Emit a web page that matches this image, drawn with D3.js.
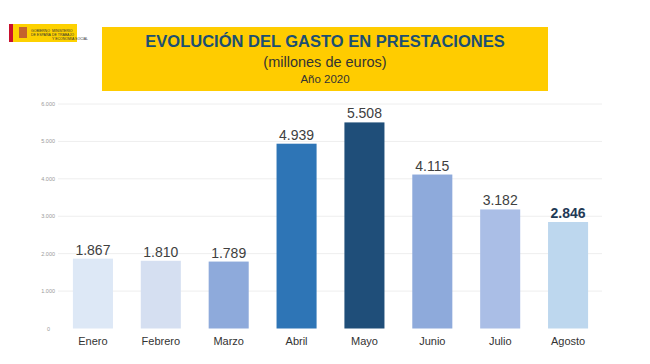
<!DOCTYPE html>
<html><head><meta charset="utf-8">
<script src="https://cdn.jsdelivr.net/npm/d3@7"></script>
<style>body{margin:0;background:#fff}svg{display:block}</style>
</head><body>
<script>
const months = ["Enero","Febrero","Marzo","Abril","Mayo","Junio","Julio","Agosto"];
const values = [1867,1810,1789,4939,5508,4115,3182,2846];
const valueLabels = ["1.867","1.810","1.789","4.939","5.508","4.115","3.182","2.846"];
const barColors = ["#dde8f6","#d5dff1","#8eaadb","#2e75b6","#1f4e79","#8eaadb","#aabee6","#bdd7ee"];
const yTicks = [0,1000,2000,3000,4000,5000,6000];
const yTickLabels = ["0","1.000","2.000","3.000","4.000","5.000","6.000"];
const titleLines = ["EVOLUCIÓN DEL GASTO EN PRESTACIONES","(millones de euros)","Año 2020"];

const W=650,H=364;
const svg=d3.select("body").append("svg").attr("width",W).attr("height",H);
const font="Liberation Sans, Arial, sans-serif";

// logo
const logo=svg.append("g");
logo.append("rect").attr("x",9).attr("y",24).attr("width",4).attr("height",18).attr("fill","#c8102e");
logo.append("rect").attr("x",13).attr("y",24).attr("width",64).attr("height",18).attr("fill","#fdd100");
logo.append("rect").attr("x",19).attr("y",27).attr("width",8).attr("height",11).attr("fill","#b5473a").attr("opacity",0.8);
logo.append("text").attr("x",31).attr("y",32).attr("font-size",3.5).attr("font-family",font).attr("fill","#333").text("GOBIERNO");
logo.append("text").attr("x",31).attr("y",36).attr("font-size",3.5).attr("font-family",font).attr("fill","#333").text("DE ESPAÑA");
logo.append("text").attr("x",52).attr("y",32).attr("font-size",3.5).attr("font-family",font).attr("fill","#333").text("MINISTERIO");
logo.append("text").attr("x",52).attr("y",36).attr("font-size",3.5).attr("font-family",font).attr("fill","#333").text("DE TRABAJO");
logo.append("text").attr("x",52).attr("y",40).attr("font-size",3.5).attr("font-family",font).attr("fill","#333").text("Y ECONOMÍA SOCIAL");

// title box
svg.append("rect").attr("x",102).attr("y",27).attr("width",446).attr("height",64).attr("fill","#ffcc00");
svg.append("text").attr("x",325).attr("y",47).attr("text-anchor","middle").attr("font-family",font)
  .attr("font-weight","bold").attr("font-size",16.5).attr("fill","#1c4f72").text(titleLines[0]);
svg.append("text").attr("x",325).attr("y",67).attr("text-anchor","middle").attr("font-family",font)
  .attr("font-size",14.5).attr("fill","#333").text(titleLines[1]);
svg.append("text").attr("x",325).attr("y",83).attr("text-anchor","middle").attr("font-family",font)
  .attr("font-size",11.5).attr("fill","#333").text(titleLines[2]);

const x=d3.scaleBand().domain(months).range([59,602]).paddingInner(0.41).paddingOuter(0.205);
const y=d3.scaleLinear().domain([0,6000]).range([328.5,104]);

// grid
svg.append("g").selectAll("line").data(yTicks.slice(1)).join("line")
  .attr("x1",58).attr("x2",602).attr("y1",d=>y(d)).attr("y2",d=>y(d))
  .attr("stroke","#eeeeee").attr("stroke-width",1);

// y axis labels
svg.append("g").selectAll("text").data(yTicks).join("text")
  .attr("x",d=>d===0?50:55).attr("y",d=>y(d)+2).attr("text-anchor","end")
  .attr("font-family",font).attr("font-size",5.5).attr("fill","#999")
  .text((d,i)=>yTickLabels[i]);

// bars
svg.append("g").selectAll("rect").data(values).join("rect")
  .attr("x",(d,i)=>x(months[i])).attr("width",x.bandwidth())
  .attr("y",d=>y(d)).attr("height",d=>y(0)-y(d))
  .attr("fill",(d,i)=>barColors[i]);

// value labels
svg.append("g").selectAll("text").data(values).join("text")
  .attr("x",(d,i)=>x(months[i])+x.bandwidth()/2).attr("y",d=>y(d)-4)
  .attr("text-anchor","middle").attr("font-family",font).attr("font-size",14)
  .attr("font-weight",(d,i)=>i===7?"bold":"normal")
  .attr("fill",(d,i)=>i===7?"#1f3a56":"#404040")
  .text((d,i)=>valueLabels[i]);

// x labels
svg.append("g").selectAll("text").data(months).join("text")
  .attr("x",d=>x(d)+x.bandwidth()/2).attr("y",345)
  .attr("text-anchor","middle").attr("font-family",font).attr("font-size",11)
  .attr("fill","#333").text(d=>d);
</script>
</body></html>
